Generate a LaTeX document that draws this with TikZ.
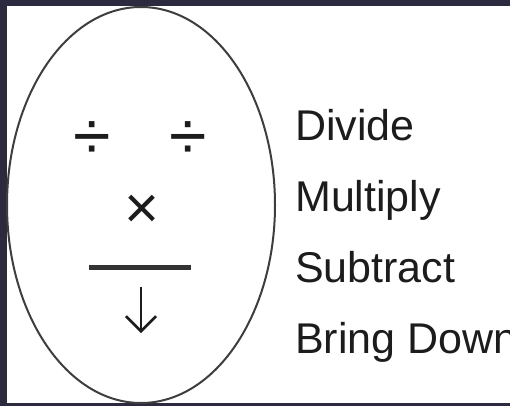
\documentclass[tikz,border=0pt]{standalone}
\usepackage{fontspec}
\setmainfont{Liberation Sans}
\usetikzlibrary{arrows.meta}
\definecolor{frame}{RGB}{44,42,62}
\definecolor{ink}{RGB}{28,28,28}
\begin{document}
\begin{tikzpicture}[x=1pt, y=-1pt, every node/.style={inner sep=0pt, text=ink},
  stepname/.style={anchor=base west, font=\fontsize{43}{43}\selectfont},
  sign/.style={font=\fontsize{68}{68}\selectfont}]
  \fill[frame] (0,0) rectangle (510,406);
  \fill[white] (7,6) rectangle (510,403);
  \useasboundingbox (0,0) rectangle (510,406);
  \coordinate (O) at (141,205);
  \coordinate (barL) at (89,267);
  \coordinate (barR) at (191,267);
  \coordinate (dropTop) at (141,287);
  \coordinate (dropEnd) at (141,333);
  \draw[ink!85, line width=2pt] (O) ellipse [x radius=134pt, y radius=198pt];
  \node[sign] (divL) at (92,141) {÷};
  \node[sign] (divR) at (188,141) {÷};
  \node[sign, font=\fontsize{60}{60}\selectfont] (times) at (142,212) {×};
  \draw[ink!90, line width=5pt] (barL) -- (barR);
  \draw[ink, line width=2.5pt, -{Straight Barb[length=15pt,width=30pt]}] (dropTop) -- (dropEnd);
  \node[stepname] (divide) at (295,140) {Divide};
  \node[stepname] (multiply) at (295,211) {Multiply};
  \node[stepname] (subtract) at (295,282) {Subtract};
  \node[stepname] (bring) at (295,353) {Bring Down};
\end{tikzpicture}
\end{document}
